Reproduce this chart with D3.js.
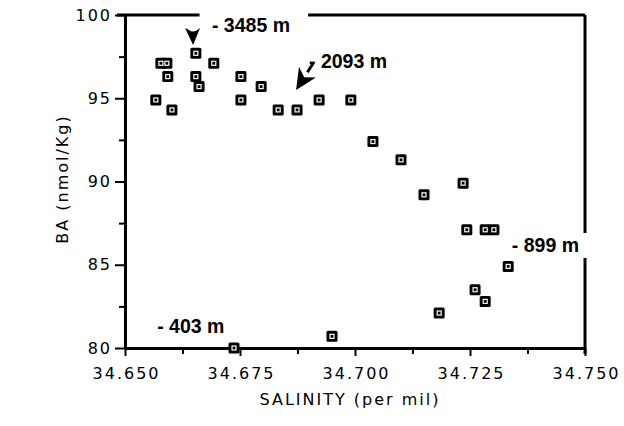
<!DOCTYPE html>
<html>
<head>
<meta charset="utf-8">
<script src="https://cdn.jsdelivr.net/npm/d3@7"></script>
<style>
  body { margin: 0; background: #fff; }
  text { fill: #000; }
</style>
</head>
<body>
<svg id="chart" width="624" height="426"></svg>
<script>
// salinity (per mil) and BA (nmol/Kg)
const salinity = [34.6567, 34.6578, 34.6591, 34.6593, 34.6602, 34.6654, 34.6654, 34.6661,
                  34.6693, 34.6752, 34.6752, 34.6796, 34.6833, 34.6874, 34.6922, 34.6991,
                  34.7039, 34.7100, 34.7150, 34.7235, 34.7243, 34.7283, 34.7302, 34.7333,
                  34.7261, 34.7283, 34.7183, 34.6737, 34.6950];
const ba = [94.9, 97.1, 97.1, 96.3, 94.3, 97.7, 96.3, 95.7,
            97.1, 96.3, 94.9, 95.7, 94.3, 94.3, 94.9, 94.9,
            92.4, 91.3, 89.2, 89.9, 87.1, 87.1, 87.1, 84.9,
            83.5, 82.8, 82.1, 80.0, 80.7];

const xTicks = [34.650, 34.675, 34.700, 34.725, 34.750];
const xMinor = [34.6625, 34.6875, 34.7125, 34.7375];
const yTicks = [80, 85, 90, 95, 100];
const yMinor = [82.5, 87.5, 92.5, 97.5];

// depth labels: text, start/baseline in data units
const depthLabels = [
  { text: "- 3485 m", x: 34.6689, y: 98.98 },
  { text: "- 2093 m", x: 34.6900, y: 96.82 },
  { text: "- 899 m",  x: 34.7341, y: 85.77 },
  { text: "- 403 m",  x: 34.6570, y: 80.9 }
];

const svg = d3.select("#chart");
const x = d3.scaleLinear().domain([34.650, 34.750]).range([125, 585]);
const y = d3.scaleLinear().domain([80, 100]).range([348, 15]);

const tickFont = "DejaVu Sans, sans-serif";

// x axis
const xAxis = svg.append("g").attr("transform", `translate(0,${y(80)})`);
xAxis.call(d3.axisBottom(x).tickValues(xTicks).tickSize(8).tickSizeOuter(0).tickFormat(d3.format(".3f")));
xAxis.append("g").call(d3.axisBottom(x).tickValues(xMinor).tickSize(6).tickSizeOuter(0).tickFormat(""))
  .select(".domain").remove();
xAxis.select(".domain").attr("stroke-width", 3);
xAxis.selectAll(".tick line").attr("stroke-width", 2);
xAxis.selectAll(".tick text")
  .attr("y", 20).attr("dy", "0.71em")
  .style("font-family", tickFont).style("font-size", "16px").style("letter-spacing", "2px")
  .attr("dx", "1px");

// y axis
const yAxis = svg.append("g").attr("transform", `translate(${x(34.650)},0)`);
yAxis.call(d3.axisLeft(y).tickValues(yTicks).tickSize(10).tickSizeOuter(0));
yAxis.append("g").call(d3.axisLeft(y).tickValues(yMinor).tickSize(6).tickSizeOuter(0).tickFormat(""))
  .select(".domain").remove();
yAxis.select(".domain").attr("stroke-width", 3);
yAxis.selectAll(".tick line").attr("stroke-width", 2);
yAxis.selectAll(".tick text")
  .attr("x", -13)
  .style("font-family", tickFont).style("font-size", "16px").style("letter-spacing", "2px");

// top and right frame with gaps for labels
svg.append("path")
  .attr("d", `M${x(34.650) - 8},${y(100)}H${x(34.6662)}M${x(34.6898)},${y(100)}H${x(34.750)}`)
  .attr("stroke", "#000").attr("stroke-width", 3).attr("fill", "none");
svg.append("path")
  .attr("d", `M${x(34.750)},${y(100)}V${y(86.9)}M${x(34.750)},${y(85.4)}V${y(80) + 6}`)
  .attr("stroke", "#000").attr("stroke-width", 3).attr("fill", "none");

// axis titles
svg.append("text")
  .attr("x", 350).attr("y", 405).attr("text-anchor", "middle")
  .style("font-family", tickFont).style("font-size", "16px").style("letter-spacing", "2px")
  .text("SALINITY (per mil)");
svg.append("text")
  .attr("transform", "translate(68,179) rotate(-90)").attr("text-anchor", "middle")
  .style("font-family", tickFont).style("font-size", "16px").style("letter-spacing", "2px")
  .text("BA (nmol/Kg)");

// points
const pts = salinity.map((s, i) => ({ s, b: ba[i] }));
const g = svg.append("g");
g.selectAll("rect.pt").data(pts).join("rect")
  .attr("class", "pt")
  .attr("x", d => x(d.s) - 5.5).attr("y", d => y(d.b) - 5.5)
  .attr("width", 11).attr("height", 11).attr("rx", 1.5)
  .attr("fill", "#000");
g.selectAll("rect.in").data(pts).join("rect")
  .attr("class", "in")
  .attr("x", d => x(d.s) - 2).attr("y", d => y(d.b) - 2)
  .attr("width", 4).attr("height", 4)
  .attr("fill", "none").attr("stroke", "#fff").attr("stroke-width", 1.2);

// depth labels
svg.selectAll("text.depth").data(depthLabels).join("text")
  .attr("class", "depth")
  .attr("x", d => x(d.x)).attr("y", d => y(d.y))
  .style("font-family", "Liberation Sans, Arial, sans-serif")
  .style("font-weight", "bold").style("font-size", "19.5px")
  .text(d => d.text);

// arrow for 3485 m: notched head pointing down at the top point
const tip1 = [x(34.6648), y(98.2)];
svg.append("path")
  .attr("d", `M${tip1[0]},${tip1[1]}L${tip1[0] - 8},${tip1[1] - 17}L${tip1[0] - 4},${tip1[1] - 15}Q${tip1[0]},${tip1[1] - 11} ${tip1[0] + 7},${tip1[1] - 17}Z`)
  .attr("fill", "#000");

// arrow for 2093 m
const tail2 = [x(34.6909), y(97.1)];
const tip2 = [x(34.6872), y(95.5)];
const ang = Math.atan2(tip2[1] - tail2[1], tip2[0] - tail2[0]);
const hl = 21, hw = 10;
const bx = tip2[0] - hl * Math.cos(ang), by = tip2[1] - hl * Math.sin(ang);
const nx = -Math.sin(ang), ny = Math.cos(ang);
svg.append("line")
  .attr("x1", tail2[0]).attr("y1", tail2[1]).attr("x2", bx).attr("y2", by)
  .attr("stroke", "#000").attr("stroke-width", 3);
svg.append("path")
  .attr("d", `M${tip2[0]},${tip2[1]}L${bx + nx * hw},${by + ny * hw}L${tip2[0] - 15 * Math.cos(ang)},${tip2[1] - 15 * Math.sin(ang)}L${bx - nx * hw},${by - ny * hw}Z`)
  .attr("fill", "#000");
</script>
</body>
</html>
